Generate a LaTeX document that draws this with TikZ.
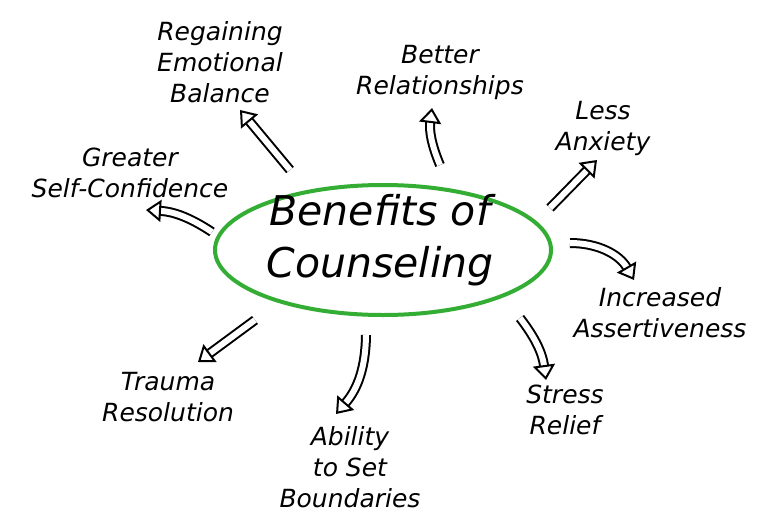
\documentclass[tikz,border=0pt]{standalone}
\usepackage{fontspec}
\setmainfont{DejaVu Sans}
\usetikzlibrary{arrows.meta,shapes.geometric}
\begin{document}
\begin{tikzpicture}[x=1pt,y=-1pt,
  lab/.style={align=center,font=\fontsize{25}{31}\selectfont\itshape,text=black},
  arr/.style={double=white,draw=black,line width=2pt,double distance=6pt,
    -{Triangle[open,length=15pt,width=22pt,line width=2pt]}}]
\useasboundingbox (0,0) rectangle (768,517);
\fill[white] (0,0) rectangle (768,517);
\node[draw=green!60!black!80,line width=4pt,ellipse,minimum width=336pt,minimum height=130pt] (c) at (383,250) {};
\node[align=center,font=\fontsize{41}{52}\selectfont\itshape] (t) at (380,240) {Benefits of\\Counseling};
\node[lab] (reg) at (220,62) {Regaining\\Emotional\\Balance};
\node[lab] (bet) at (440,72) {Better\\Relationships};
\node[lab] (les) at (603,128) {Less\\Anxiety};
\node[lab] (gre) at (130,173) {Greater\\Self-Confidence};
\node[lab] (inc) at (660,313) {Increased\\Assertiveness};
\node[lab] (str) at (565,410) {Stress\\Relief};
\node[lab] (tra) at (168,397) {Trauma\\Resolution};
\node[lab] (abi) at (350,467) {Ability\\to Set\\Boundaries};
\coordinate (a1) at (290,170); \coordinate (b1) at (240,110);
\coordinate (a2) at (440,165); \coordinate (b2) at (432,108);
\coordinate (a3) at (550,208); \coordinate (b3) at (597,160);
\coordinate (a4) at (212,232); \coordinate (b4) at (146,210);
\coordinate (a5) at (570,243); \coordinate (b5) at (634,280);
\coordinate (a6) at (520,318); \coordinate (b6) at (546,380);
\coordinate (a7) at (255,320); \coordinate (b7) at (198,362);
\coordinate (a8) at (366,335); \coordinate (b8) at (336,414);
\draw[arr] (a1) -- (b1);
\draw[arr] (a2) to[bend left=15] (b2);
\draw[arr] (a3) -- (b3);
\draw[arr] (a4) to[bend right=15] (b4);
\draw[arr] (a5) to[bend left=30] (b5);
\draw[arr] (a6) to[bend left=15] (b6);
\draw[arr] (a7) -- (b7);
\draw[arr] (a8) to[bend left=20] (b8);
\end{tikzpicture}
\end{document}
